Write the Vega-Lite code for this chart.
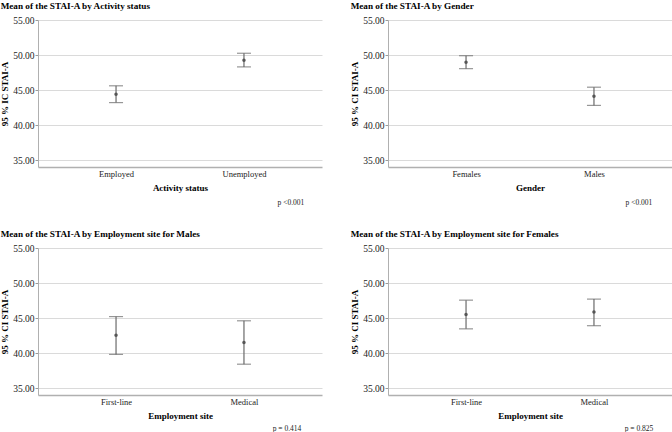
{
  "$schema": "https://vega.github.io/schema/vega-lite/v6.json",
  "padding": {"left": 0, "top": 1, "right": 0, "bottom": 0},
  "spacing": 22,
  "config": {
    "font": "Liberation Serif",
    "view": {"stroke": null},
    "concat": {"spacing": 28},
    "axis": {"labelFont": "Liberation Serif", "titleFont": "Liberation Serif", "labelFontSize": 9, "titleFontSize": 9, "titleFontWeight": "bold", "labelColor": "#222", "titleColor": "#000", "domainColor": "#b0b0b0", "gridColor": "#dadada", "tickColor": "#9a9a9a", "labelOverlap": false},
    "axisY": {"tickSize": 3, "labelPadding": 1, "titlePadding": 3, "grid": true, "format": ".2f", "labelFontSize": 9.5},
    "axisX": {"labelAngle": 0, "ticks": false, "grid": false, "labelPadding": 2, "titlePadding": 6, "domainWidth": 1.5, "labelFontSize": 8.5},
    "title": {"font": "Liberation Serif", "fontSize": 9.2, "fontWeight": "bold", "anchor": "start", "offset": 4, "color": "#000"},
    "rule": {"color": "#6a6a6a", "strokeWidth": 1.2},
    "tick": {"color": "#6a6a6a", "thickness": 1.2, "size": 14},
    "text": {"fontSize": 7.5, "baseline": "middle", "align": "center", "color": "#222"}
  },
  "vconcat": [
    {
      "hconcat": [
        {
          "title": "Mean of the STAI-A by Activity status",
          "width": 284, "height": 147,
          "data": {"values": [
            {"cat": "Employed", "mean": 44.4, "lo": 43.2, "hi": 45.6},
            {"cat": "Unemployed", "mean": 49.25, "lo": 48.3, "hi": 50.25}
          ]},
          "encoding": {
            "x": {"field": "cat", "type": "nominal", "sort": ["Employed", "Unemployed"], "scale": {"type": "point", "padding": 0.61}, "axis": {"title": "Activity status"}}
          },
          "layer": [
            {"mark": "rule",
             "encoding": {"y": {"field": "lo", "type": "quantitative", "scale": {"domain": [34, 55], "nice": false, "zero": false}, "axis": {"title": "95 % IC STAI-A", "values": [35, 40, 45, 50, 55]}}, "y2": {"field": "hi"}}},
            {"mark": {"type": "tick", "orient": "horizontal"}, "encoding": {"y": {"field": "lo", "type": "quantitative", "axis": {"title": "95 % IC STAI-A", "values": [35, 40, 45, 50, 55]}}}},
            {"mark": {"type": "tick", "orient": "horizontal"}, "encoding": {"y": {"field": "hi", "type": "quantitative", "axis": {"title": "95 % IC STAI-A", "values": [35, 40, 45, 50, 55]}}}},
            {"mark": {"type": "point", "filled": true, "size": 12, "color": "#555", "opacity": 1}, "encoding": {"y": {"field": "mean", "type": "quantitative", "axis": {"title": "95 % IC STAI-A", "values": [35, 40, 45, 50, 55]}}}},
            {"data": {"values": [{"cat": "Unemployed", "lo": 34, "p": "p <0.001"}]},
             "mark": {"type": "text", "dx": 47, "dy": 36},
             "encoding": {"y": {"field": "lo", "type": "quantitative", "axis": {"title": "95 % IC STAI-A", "values": [35, 40, 45, 50, 55]}}, "text": {"field": "p"}}}
          ]
        },
        {
          "title": "Mean of the STAI-A by Gender",
          "width": 284, "height": 147,
          "data": {"values": [
            {"cat": "Females", "mean": 48.95, "lo": 48.05, "hi": 49.9},
            {"cat": "Males", "mean": 44.1, "lo": 42.8, "hi": 45.4}
          ]},
          "encoding": {
            "x": {"field": "cat", "type": "nominal", "sort": ["Females", "Males"], "scale": {"type": "point", "padding": 0.61}, "axis": {"title": "Gender"}}
          },
          "layer": [
            {"mark": "rule",
             "encoding": {"y": {"field": "lo", "type": "quantitative", "scale": {"domain": [34, 55], "nice": false, "zero": false}, "axis": {"title": "95 % CI STAI-A", "values": [35, 40, 45, 50, 55]}}, "y2": {"field": "hi"}}},
            {"mark": {"type": "tick", "orient": "horizontal"}, "encoding": {"y": {"field": "lo", "type": "quantitative", "axis": {"title": "95 % CI STAI-A", "values": [35, 40, 45, 50, 55]}}}},
            {"mark": {"type": "tick", "orient": "horizontal"}, "encoding": {"y": {"field": "hi", "type": "quantitative", "axis": {"title": "95 % CI STAI-A", "values": [35, 40, 45, 50, 55]}}}},
            {"mark": {"type": "point", "filled": true, "size": 12, "color": "#555", "opacity": 1}, "encoding": {"y": {"field": "mean", "type": "quantitative", "axis": {"title": "95 % CI STAI-A", "values": [35, 40, 45, 50, 55]}}}},
            {"data": {"values": [{"cat": "Males", "lo": 34, "p": "p <0.001"}]},
             "mark": {"type": "text", "dx": 45, "dy": 36},
             "encoding": {"y": {"field": "lo", "type": "quantitative", "axis": {"title": "95 % CI STAI-A", "values": [35, 40, 45, 50, 55]}}, "text": {"field": "p"}}}
          ]
        }
      ]
    },
    {
      "hconcat": [
        {
          "title": "Mean of the STAI-A by Employment site for Males",
          "width": 284, "height": 147,
          "data": {"values": [
            {"cat": "First-line", "mean": 42.55, "lo": 39.8, "hi": 45.2},
            {"cat": "Medical", "mean": 41.5, "lo": 38.4, "hi": 44.6}
          ]},
          "encoding": {
            "x": {"field": "cat", "type": "nominal", "sort": ["First-line", "Medical"], "scale": {"type": "point", "padding": 0.61}, "axis": {"title": "Employment site"}}
          },
          "layer": [
            {"mark": "rule",
             "encoding": {"y": {"field": "lo", "type": "quantitative", "scale": {"domain": [34, 55], "nice": false, "zero": false}, "axis": {"title": "95 % CI STAI-A", "values": [35, 40, 45, 50, 55]}}, "y2": {"field": "hi"}}},
            {"mark": {"type": "tick", "orient": "horizontal"}, "encoding": {"y": {"field": "lo", "type": "quantitative", "axis": {"title": "95 % CI STAI-A", "values": [35, 40, 45, 50, 55]}}}},
            {"mark": {"type": "tick", "orient": "horizontal"}, "encoding": {"y": {"field": "hi", "type": "quantitative", "axis": {"title": "95 % CI STAI-A", "values": [35, 40, 45, 50, 55]}}}},
            {"mark": {"type": "point", "filled": true, "size": 12, "color": "#555", "opacity": 1}, "encoding": {"y": {"field": "mean", "type": "quantitative", "axis": {"title": "95 % CI STAI-A", "values": [35, 40, 45, 50, 55]}}}},
            {"data": {"values": [{"cat": "Medical", "lo": 34, "p": "p = 0.414"}]},
             "mark": {"type": "text", "dx": 43, "dy": 34},
             "encoding": {"y": {"field": "lo", "type": "quantitative", "axis": {"title": "95 % CI STAI-A", "values": [35, 40, 45, 50, 55]}}, "text": {"field": "p"}}}
          ]
        },
        {
          "title": "Mean of the STAI-A by Employment site for Females",
          "width": 284, "height": 147,
          "data": {"values": [
            {"cat": "First-line", "mean": 45.5, "lo": 43.45, "hi": 47.55},
            {"cat": "Medical", "mean": 45.85, "lo": 43.9, "hi": 47.7}
          ]},
          "encoding": {
            "x": {"field": "cat", "type": "nominal", "sort": ["First-line", "Medical"], "scale": {"type": "point", "padding": 0.61}, "axis": {"title": "Employment site"}}
          },
          "layer": [
            {"mark": "rule",
             "encoding": {"y": {"field": "lo", "type": "quantitative", "scale": {"domain": [34, 55], "nice": false, "zero": false}, "axis": {"title": "95 % CI STAI-A", "values": [35, 40, 45, 50, 55]}}, "y2": {"field": "hi"}}},
            {"mark": {"type": "tick", "orient": "horizontal"}, "encoding": {"y": {"field": "lo", "type": "quantitative", "axis": {"title": "95 % CI STAI-A", "values": [35, 40, 45, 50, 55]}}}},
            {"mark": {"type": "tick", "orient": "horizontal"}, "encoding": {"y": {"field": "hi", "type": "quantitative", "axis": {"title": "95 % CI STAI-A", "values": [35, 40, 45, 50, 55]}}}},
            {"mark": {"type": "point", "filled": true, "size": 12, "color": "#555", "opacity": 1}, "encoding": {"y": {"field": "mean", "type": "quantitative", "axis": {"title": "95 % CI STAI-A", "values": [35, 40, 45, 50, 55]}}}},
            {"data": {"values": [{"cat": "Medical", "lo": 34, "p": "p = 0.825"}]},
             "mark": {"type": "text", "dx": 45, "dy": 34},
             "encoding": {"y": {"field": "lo", "type": "quantitative", "axis": {"title": "95 % CI STAI-A", "values": [35, 40, 45, 50, 55]}}, "text": {"field": "p"}}}
          ]
        }
      ]
    }
  ]
}
